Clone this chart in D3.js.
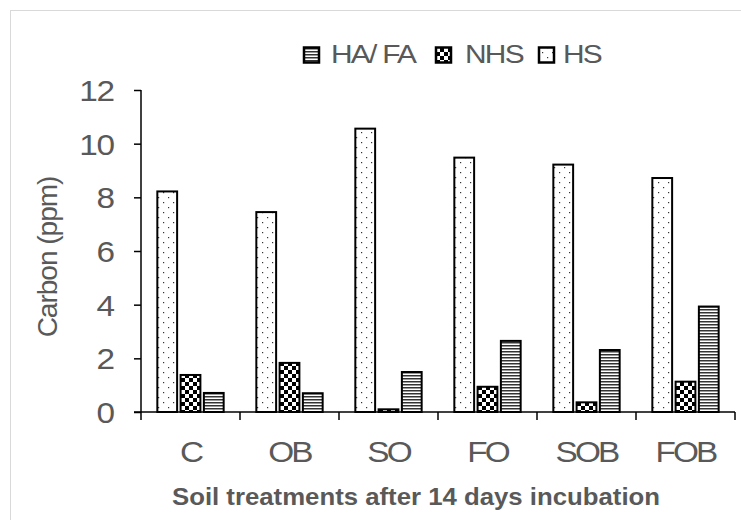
<!DOCTYPE html>
<html>
<head>
<meta charset="utf-8">
<script src="https://cdn.jsdelivr.net/npm/d3@7"></script>
<style>
  body { margin: 0; background: #fff; }
  text { font-family: "Liberation Sans", Arial, sans-serif; fill: #595959; }
</style>
</head>
<body>
<script>
// chart data
const categories = ["C", "OB", "SO", "FO", "SOB", "FOB"];
const seriesNames = ["HS", "NHS", "HA/FA"];
const hsValues = [8.22, 7.45, 10.56, 9.48, 9.22, 8.72];
const nhsValues = [1.38, 1.83, 0.1, 0.94, 0.36, 1.13];
const hafaValues = [0.71, 0.7, 1.49, 2.65, 2.31, 3.93];
const yTicks = [0, 2, 4, 6, 8, 10, 12];
const legendOrder = ["HA/FA", "NHS", "HS"];
const legendLabels = {"HA/FA": "HA/ FA", "NHS": "NHS", "HS": "HS"};

const W = 741, H = 520;
const margin = {top: 90, left: 141};
const plotW = 735 - margin.left, plotH = 412 - margin.top;
const sx = 1.15; // text in the original is slightly wide

const svg = d3.select("body").append("svg")
    .attr("width", W)
    .attr("height", H);

// outer frame
svg.append("rect")
    .attr("x", 10.5).attr("y", 10.5)
    .attr("width", 740).attr("height", 520)
    .attr("fill", "none").attr("stroke", "#d9d9d9").attr("stroke-width", 1);

// fill patterns
const defs = svg.append("defs");
const pHS = defs.append("pattern").attr("id", "pHS")
    .attr("patternUnits", "userSpaceOnUse").attr("width", 10).attr("height", 10);
pHS.append("rect").attr("width", 10).attr("height", 10).attr("fill", "#fff");
pHS.append("rect").attr("x", 2).attr("y", 2).attr("width", 1.2).attr("height", 1.2).attr("fill", "#333");
pHS.append("rect").attr("x", 7).attr("y", 7).attr("width", 1.2).attr("height", 1.2).attr("fill", "#333");

const pNHS = defs.append("pattern").attr("id", "pNHS")
    .attr("patternUnits", "userSpaceOnUse").attr("width", 8).attr("height", 8);
pNHS.append("rect").attr("width", 8).attr("height", 8).attr("fill", "#fff");
pNHS.append("rect").attr("width", 4).attr("height", 4).attr("fill", "#000");
pNHS.append("rect").attr("x", 4).attr("y", 4).attr("width", 4).attr("height", 4).attr("fill", "#000");

const pHA = defs.append("pattern").attr("id", "pHA")
    .attr("patternUnits", "userSpaceOnUse").attr("width", 4).attr("height", 3);
pHA.append("rect").attr("width", 4).attr("height", 3).attr("fill", "#fff");
pHA.append("rect").attr("width", 4).attr("height", 1.5).attr("fill", "#333");

const fills = {"HS": "url(#pHS)", "NHS": "url(#pNHS)", "HA/FA": "url(#pHA)"};

const g = svg.append("g")
    .attr("transform", "translate(" + margin.left + "," + margin.top + ")");

// scales
const x0 = d3.scaleBand().domain(categories).range([0, plotW]).padding(0);
const x1 = d3.scaleBand().domain(seriesNames)
    .range([x0.bandwidth() * 0.165, x0.bandwidth() * 0.835])
    .paddingInner(0.15).paddingOuter(0);
const y = d3.scaleLinear().domain([0, 12]).range([plotH, 0]);

const valuesBySeries = {"HS": hsValues, "NHS": nhsValues, "HA/FA": hafaValues};

// bars
const groups = g.selectAll(".grp")
    .data(categories)
    .enter().append("g")
    .attr("transform", d => "translate(" + x0(d) + ",0)");

groups.selectAll("rect")
    .data((c, i) => seriesNames.map(s => ({s: s, v: valuesBySeries[s][i]})))
    .enter().append("rect")
    .attr("x", d => x1(d.s))
    .attr("y", d => y(d.v))
    .attr("width", x1.bandwidth())
    .attr("height", d => y(0) - y(d.v))
    .attr("fill", d => fills[d.s])
    .attr("stroke", "#000")
    .attr("stroke-width", 2);

// y axis
const yAxis = g.append("g")
    .call(d3.axisLeft(y).tickValues(yTicks).tickSize(7).tickPadding(20).tickSizeOuter(0));
yAxis.select(".domain").attr("stroke", "#000").attr("stroke-width", 1.5)
    .attr("d", "M0,0V" + (plotH + 8));
yAxis.selectAll(".tick line").attr("stroke", "#000").attr("stroke-width", 1.5);
yAxis.selectAll(".tick text")
    .style("font-size", "29px").style("fill", "#595959")
    .style("letter-spacing", "-1px")
    .attr("x", -27 / sx)
    .attr("dy", "0.36em")
    .attr("transform", "scale(" + sx + ",1)");

// x axis with separator ticks between categories
const xAxisG = g.append("g").attr("transform", "translate(0," + plotH + ")");
xAxisG.append("line")
    .attr("x1", -7).attr("x2", plotW)
    .attr("stroke", "#000").attr("stroke-width", 1.5);
xAxisG.selectAll(".sep")
    .data(categories)
    .enter().append("line")
    .attr("x1", d => x0(d) + x0.bandwidth())
    .attr("x2", d => x0(d) + x0.bandwidth())
    .attr("y1", 0).attr("y2", 8)
    .attr("stroke", "#000").attr("stroke-width", 1.5);
xAxisG.selectAll(".lbl")
    .data(categories)
    .enter().append("text")
    .attr("transform", d => "translate(" + (x0(d) + x0.bandwidth() / 2) + ",50) scale(" + sx + ",1)")
    .attr("text-anchor", "middle")
    .style("font-size", "29px")
    .style("letter-spacing", "-2.5px")
    .text(d => d);

// axis titles
svg.append("text")
    .attr("x", 416).attr("y", 505)
    .attr("text-anchor", "middle")
    .style("font-size", "24px").style("font-weight", "bold")
    .attr("textLength", 488).attr("lengthAdjust", "spacingAndGlyphs")
    .text("Soil treatments after 14 days incubation");

svg.append("text")
    .attr("transform", "translate(57,257) rotate(-90)")
    .attr("text-anchor", "middle")
    .style("font-size", "28px")
    .style("letter-spacing", "-1px")
    .text("Carbon (ppm)");

// legend
const legendX = [304, 436, 539];
const legendTextX = [331, 465, 563];
legendOrder.forEach((s, i) => {
    svg.append("rect")
        .attr("x", legendX[i]).attr("y", 47.5)
        .attr("width", 15).attr("height", 15)
        .attr("fill", fills[s]).attr("stroke", "#000").attr("stroke-width", 2.5);
    svg.append("text")
        .attr("transform", "translate(" + legendTextX[i] + ",63) scale(" + sx + ",1)")
        .style("font-size", "26px")
        .style("letter-spacing", "-1.5px")
        .text(legendLabels[s]);
});
</script>
</body>
</html>
